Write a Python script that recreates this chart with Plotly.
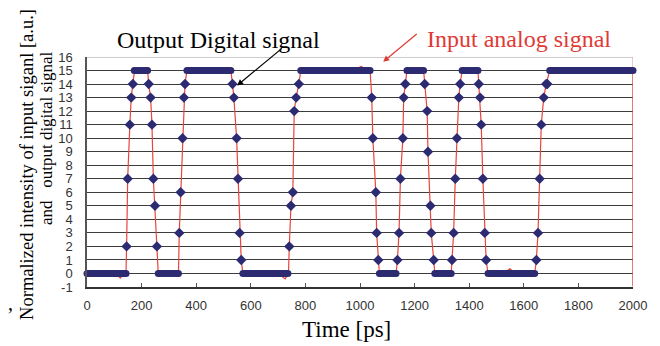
import plotly.graph_objects as go

# ---------------- data ----------------
# Output digital signal: samples on the transitions (time ps, level)
dig_t = [145, 149, 157, 162, 168,
         226, 233, 238, 243, 249, 256,
         338, 343, 350, 355, 359,
         533, 538, 548, 553, 559, 565,
         741, 747, 754, 759, 766, 776,
         1043, 1047, 1058, 1061, 1067,
         1137, 1143, 1148, 1157, 1160, 1166,
         1237, 1246, 1249, 1258, 1261, 1270,
         1337, 1343, 1349, 1355, 1362, 1367,
         1435, 1440, 1444, 1450, 1457, 1462,
         1646, 1652, 1658, 1664, 1673, 1682, 1686]
dig_v = [2, 7, 11, 13, 14,
         14, 13, 11, 7, 5, 2,
         3, 6, 10, 13, 14,
         14, 13, 10, 7, 3, 1,
         2, 5, 6, 12, 13, 14,
         13, 10, 6, 3, 1,
         1, 3, 7, 10, 13, 14,
         14, 12, 9, 5, 3, 1,
         1, 3, 7, 10, 13, 14,
         14, 13, 11, 7, 3, 1,
         1, 3, 7, 11, 13, 14, 14]

# Output digital signal: plateaus of densely packed samples
plat_start = [0, 173, 261, 366, 571, 783, 1071, 1172, 1274, 1374, 1469, 1695]
plat_end = [143, 222, 335, 527, 736, 1037, 1132, 1233, 1334, 1432, 1640, 2000]
plat_level = [0, 15, 0, 15, 0, 15, 0, 15, 0, 15, 0, 15]

# Input analog signal
ana_t = [0, 105, 122, 135, 143, 145, 149, 157, 162, 168, 174,
         222, 226, 233, 238, 243, 249, 256, 261,
         335, 338, 343, 350, 355, 359, 366,
         527, 533, 538, 548, 553, 559, 565, 571,
         700, 726, 738, 741, 747, 754, 759, 766, 776, 783,
         975, 1004, 1030, 1037, 1043, 1047, 1058, 1061, 1067, 1071,
         1132, 1137, 1143, 1148, 1157, 1160, 1166, 1172,
         1233, 1237, 1246, 1249, 1258, 1261, 1270, 1274,
         1334, 1337, 1343, 1349, 1355, 1362, 1367, 1374,
         1432, 1435, 1440, 1444, 1450, 1457, 1462, 1469,
         1525, 1549, 1570, 1640, 1646, 1652, 1658, 1664, 1673, 1682, 1695,
         1860, 1896, 1930, 2000, 2000]
ana_v = [0, 0, -0.35, 0, 0.2, 2, 7, 11, 13, 14, 15,
         15, 14, 13, 11, 7, 5, 2, 0,
         0, 3, 6, 10, 13, 14, 15,
         15, 14, 13, 10, 7, 3, 1, 0,
         0, -0.4, 0, 2, 5, 6, 12, 13, 14, 15,
         15, 15.3, 15, 15, 13, 10, 6, 3, 1, 0,
         0, 1, 3, 7, 10, 13, 14, 15,
         15, 14, 12, 9, 5, 3, 1, 0,
         0, 1, 3, 7, 10, 13, 14, 15,
         15, 14, 13, 11, 7, 3, 1, 0,
         0, 0.35, 0, 0, 1, 3, 7, 11, 13, 14, 15,
         15, 15.1, 15, 15, -0.9]

x_ticks = [0, 200, 400, 600, 800, 1000, 1200, 1400, 1600, 1800, 2000]
y_ticks = list(range(-1, 17))

NAVY = "#2c2b72"
RED = "#e8453c"

# plateau segments built from plateau lists
seg_x, seg_y = [], []
for s, e, lv in zip(plat_start, plat_end, plat_level):
    seg_x += [s, e, None]
    seg_y += [lv, lv, None]

fig = go.Figure()
fig.add_trace(go.Scatter(x=ana_t, y=ana_v, mode="lines",
                         line=dict(color=RED, width=1.2), showlegend=False))
fig.add_trace(go.Scatter(x=seg_x, y=seg_y, mode="lines+markers",
                         line=dict(color=NAVY, width=7),
                         marker=dict(color=NAVY, size=7, symbol="circle"),
                         showlegend=False, cliponaxis=False))
fig.add_trace(go.Scatter(x=dig_t, y=dig_v, mode="markers",
                         marker=dict(color=NAVY, size=8, symbol="diamond"),
                         showlegend=False))

# top and right frame
fig.add_shape(type="line", x0=0, x1=2000, y0=16, y1=16, xref="x", yref="y",
              line=dict(color="#9a9a9a", width=1), layer="below")
fig.add_shape(type="line", x0=2000, x1=2000, y0=-1, y1=16, xref="x", yref="y",
              line=dict(color="#c89a9a", width=1), layer="below")

serif = "Liberation Serif, Times New Roman, serif"

fig.update_layout(
    width=652, height=338,
    margin=dict(l=79, r=27, t=49, b=59),
    paper_bgcolor="white", plot_bgcolor="white",
    xaxis=dict(range=[0, 2000], tickvals=x_ticks, ticktext=[str(v) for v in x_ticks],
               showgrid=False, zeroline=False, showline=True, linecolor="#333333",
               linewidth=1.5, ticks="inside", ticklen=4, tickcolor="#555555",
               tickfont=dict(family="Liberation Sans, Arial, sans-serif", size=13, color="#333333"),
               ticklabelstandoff=6),
    yaxis=dict(range=[-1, 16], tickvals=y_ticks, ticktext=[str(v) for v in y_ticks],
               showgrid=True, gridcolor="#3c3c3c", gridwidth=1.4, zeroline=False,
               showline=True, linecolor="#555555", linewidth=1.5, ticks="",
               tickfont=dict(family="Liberation Sans Narrow, Arial Narrow, Liberation Sans, sans-serif",
                             size=13, color="#333333"),
               ticklabelstandoff=10),
    annotations=[
        dict(text="Output Digital signal", x=0.24, y=1.074, xref="paper", yref="paper",
             showarrow=False, font=dict(family=serif, size=24, color="black"),
             xanchor="center", yanchor="middle"),
        dict(text="", x=550, y=13.9, xref="x", yref="y", showarrow=True,
             ax=46, ay=-38, arrowhead=2, arrowsize=1,
             arrowwidth=1.2, arrowcolor="black"),
        dict(text="Input analog signal", x=0.791, y=1.078, xref="paper", yref="paper",
             showarrow=False, font=dict(family=serif, size=24, color="#e03a35"),
             xanchor="center", yanchor="middle"),
        dict(text="", x=1085, y=15.65, xref="x", yref="y", showarrow=True,
             ax=35, ay=-29, arrowhead=2, arrowsize=1, arrowwidth=1.2, arrowcolor="#e03a35"),
        dict(text="Time [ps]", x=0.476, y=-0.183, xref="paper", yref="paper",
             showarrow=False, font=dict(family=serif, size=23, color="black"),
             xanchor="center", yanchor="middle"),
        dict(text="Normalized intensity of input siganl [a.u.]", x=-0.110, y=0.535,
             xref="paper", yref="paper", showarrow=False, textangle=-90,
             font=dict(family=serif, size=18.5, color="black"),
             xanchor="center", yanchor="middle"),
        dict(text="and   output digital signal", x=-0.073, y=0.648,
             xref="paper", yref="paper", showarrow=False, textangle=-90,
             font=dict(family=serif, size=17, color="black"),
             xanchor="center", yanchor="middle"),
        dict(text=",", x=-0.141, y=-0.07, xref="paper", yref="paper", showarrow=False,
             font=dict(family=serif, size=20, color="black"),
             xanchor="center", yanchor="middle"),
    ],
)

fig.write_html("out.html")
